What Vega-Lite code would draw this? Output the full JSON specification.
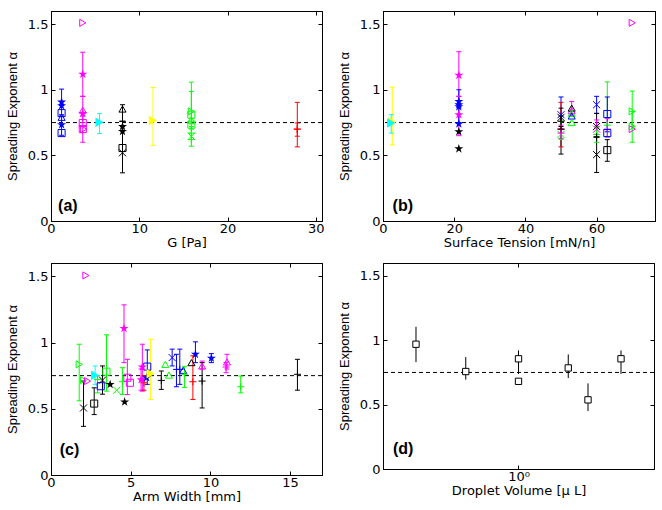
{
"$schema":"https://vega.github.io/schema/vega-lite/v6.json",
"background":"white",
"padding":{"left":5,"top":10,"right":5,"bottom":0},
"columns":2,
"spacing":{"row":12,"column":12},
"datasets":{
"a":[
{"x":1.2,"y":0.906,"lo":0.81,"hi":1.005,"s":"blue","m":"star"},
{"x":1.2,"y":0.878,"s":"blue","m":"star"},
{"x":1.2,"y":0.822,"s":"blue","m":"square"},
{"x":1.2,"y":0.79,"s":"blue","m":"tri"},
{"x":1.2,"y":0.734,"lo":0.653,"hi":0.8,"s":"blue","m":"star"},
{"x":1.2,"y":0.67,"s":"blue","m":"square"},
{"x":3.6,"y":1.51,"s":"magenta","m":"trr"},
{"x":3.6,"y":1.118,"lo":0.95,"hi":1.286,"s":"magenta","m":"star"},
{"x":3.6,"y":0.845,"lo":0.75,"hi":0.95,"s":"magenta","m":"tri"},
{"x":3.6,"y":0.82,"s":"magenta","m":"star"},
{"x":3.6,"y":0.746,"s":"magenta","m":"square"},
{"x":3.6,"y":0.7,"lo":0.6,"hi":0.8,"s":"magenta","m":"square"},
{"x":3.7,"y":0.7,"s":"magenta","m":"trr"},
{"x":5.5,"y":0.752,"lo":0.666,"hi":0.818,"s":"cyan","m":"trf"},
{"x":8.1,"y":0.853,"lo":0.76,"hi":0.886,"s":"black","m":"tri"},
{"x":8.1,"y":0.76,"s":"black","m":"plus"},
{"x":8.1,"y":0.72,"s":"black","m":"star"},
{"x":8.1,"y":0.683,"s":"black","m":"star"},
{"x":8.1,"y":0.556,"s":"black","m":"square"},
{"x":8.1,"y":0.52,"lo":0.367,"hi":0.72,"s":"black","m":"x"},
{"x":11.55,"y":0.765,"lo":0.577,"hi":1.017,"s":"yellow","m":"trf"},
{"x":15.9,"y":0.835,"lo":0.74,"hi":1.058,"s":"green","m":"trr"},
{"x":15.9,"y":0.81,"s":"green","m":"square"},
{"x":15.9,"y":0.77,"lo":0.7,"hi":0.987,"s":"green","m":"tri"},
{"x":15.9,"y":0.734,"s":"green","m":"square"},
{"x":15.9,"y":0.67,"s":"green","m":"plus"},
{"x":15.9,"y":0.645,"lo":0.57,"hi":0.72,"s":"green","m":"x"},
{"x":15.9,"y":0.62,"s":"green","m":"plus"},
{"x":27.9,"y":0.7,"lo":0.565,"hi":0.904,"s":"red","m":"plus"},
{"x":27.9,"y":0.7,"lo":0.646,"hi":0.747,"s":"red","m":"plus"}
],
"b":[
{"x":2.6,"y":0.754,"lo":0.58,"hi":1.02,"s":"yellow","m":"trf"},
{"x":2.3,"y":0.747,"lo":0.67,"hi":0.81,"s":"cyan","m":"trf"},
{"x":21.3,"y":1.11,"lo":0.95,"hi":1.29,"s":"magenta","m":"star"},
{"x":21.3,"y":0.81,"lo":0.65,"hi":0.95,"s":"magenta","m":"star"},
{"x":21.3,"y":0.91,"lo":0.75,"hi":1.0,"s":"blue","m":"star"},
{"x":21.3,"y":0.886,"s":"blue","m":"star"},
{"x":21.3,"y":0.87,"s":"blue","m":"star"},
{"x":21.3,"y":0.74,"s":"blue","m":"star"},
{"x":21.3,"y":0.68,"s":"black","m":"star"},
{"x":21.3,"y":0.55,"s":"black","m":"star"},
{"x":50,"y":0.81,"lo":0.7,"hi":0.945,"s":"blue","m":"x"},
{"x":50,"y":0.79,"lo":0.72,"hi":0.86,"s":"black","m":"x"},
{"x":50,"y":0.7,"lo":0.565,"hi":0.904,"s":"red","m":"plus"},
{"x":50,"y":0.7,"lo":0.51,"hi":0.8,"s":"black","m":"plus"},
{"x":50,"y":0.66,"lo":0.62,"hi":0.76,"s":"green","m":"x"},
{"x":50,"y":0.67,"lo":0.63,"hi":0.73,"s":"magenta","m":"plus"},
{"x":50,"y":0.76,"s":"black","m":"plus"},
{"x":53,"y":0.84,"lo":0.8,"hi":0.91,"s":"magenta","m":"tri"},
{"x":53,"y":0.86,"s":"black","m":"tri"},
{"x":53,"y":0.82,"s":"green","m":"tri"},
{"x":53,"y":0.8,"s":"blue","m":"tri"},
{"x":53,"y":0.75,"s":"green","m":"tri"},
{"x":60,"y":0.886,"lo":0.82,"hi":0.95,"s":"blue","m":"x"},
{"x":60,"y":0.72,"lo":0.64,"hi":0.82,"s":"black","m":"x"},
{"x":60,"y":0.7,"lo":0.66,"hi":0.77,"s":"magenta","m":"x"},
{"x":60,"y":0.66,"lo":0.6,"hi":0.72,"s":"green","m":"plus"},
{"x":60,"y":0.506,"lo":0.37,"hi":0.64,"s":"black","m":"x"},
{"x":60,"y":0.64,"s":"black","m":"plus"},
{"x":63,"y":0.73,"lo":0.64,"hi":1.06,"s":"green","m":"plus"},
{"x":63,"y":0.815,"lo":0.68,"hi":0.945,"s":"blue","m":"square"},
{"x":63,"y":0.7,"lo":0.64,"hi":0.78,"s":"magenta","m":"plus"},
{"x":63,"y":0.67,"s":"blue","m":"square"},
{"x":63,"y":0.54,"lo":0.455,"hi":0.62,"s":"black","m":"square"},
{"x":70,"y":1.51,"s":"magenta","m":"trr"},
{"x":70,"y":0.835,"lo":0.72,"hi":0.99,"s":"green","m":"trr"},
{"x":70,"y":0.7,"s":"magenta","m":"trr"},
{"x":70,"y":0.72,"lo":0.6,"hi":0.835,"s":"green","m":"trr"}
],
"c":[
{"x":2.19,"y":1.506,"s":"magenta","m":"trr"},
{"x":1.77,"y":0.835,"lo":0.56,"hi":0.987,"s":"green","m":"trr"},
{"x":2.04,"y":0.716,"s":"green","m":"trr"},
{"x":2.29,"y":0.709,"s":"magenta","m":"trr"},
{"x":2.04,"y":0.506,"lo":0.367,"hi":0.709,"s":"black","m":"x"},
{"x":2.77,"y":0.752,"lo":0.684,"hi":0.823,"s":"cyan","m":"trf"},
{"x":2.92,"y":0.72,"lo":0.62,"hi":0.75,"s":"green","m":"plus"},
{"x":2.71,"y":0.539,"lo":0.456,"hi":0.658,"s":"black","m":"square"},
{"x":3.12,"y":0.67,"s":"blue","m":"square"},
{"x":3.23,"y":0.716,"lo":0.61,"hi":0.823,"s":"black","m":"x"},
{"x":3.48,"y":0.78,"lo":0.633,"hi":1.058,"s":"green","m":"square"},
{"x":3.71,"y":0.684,"s":"black","m":"star"},
{"x":4.12,"y":0.64,"s":"green","m":"x"},
{"x":4.58,"y":1.106,"lo":0.848,"hi":1.284,"s":"magenta","m":"star"},
{"x":4.62,"y":0.552,"s":"black","m":"star"},
{"x":4.48,"y":0.704,"lo":0.608,"hi":0.81,"s":"green","m":"plus"},
{"x":4.79,"y":0.734,"lo":0.607,"hi":0.873,"s":"magenta","m":"square"},
{"x":4.95,"y":0.696,"s":"magenta","m":"square"},
{"x":5.73,"y":0.815,"lo":0.633,"hi":0.987,"s":"magenta","m":"star"},
{"x":5.65,"y":0.72,"lo":0.64,"hi":0.8,"s":"magenta","m":"star"},
{"x":5.83,"y":0.696,"lo":0.64,"hi":0.75,"s":"red","m":"plus"},
{"x":6.04,"y":0.818,"lo":0.684,"hi":0.944,"s":"blue","m":"square"},
{"x":6.0,"y":0.734,"s":"blue","m":"star"},
{"x":6.25,"y":0.765,"lo":0.57,"hi":1.025,"s":"yellow","m":"trf"},
{"x":6.92,"y":0.714,"lo":0.646,"hi":0.785,"s":"black","m":"plus"},
{"x":7.17,"y":0.835,"s":"green","m":"tri"},
{"x":7.4,"y":0.754,"s":"green","m":"tri"},
{"x":7.6,"y":0.886,"lo":0.823,"hi":0.95,"s":"blue","m":"x"},
{"x":7.87,"y":0.797,"lo":0.666,"hi":0.911,"s":"blue","m":"plus"},
{"x":8.08,"y":0.797,"lo":0.684,"hi":0.95,"s":"blue","m":"plus"},
{"x":8.29,"y":0.79,"s":"blue","m":"tri"},
{"x":8.37,"y":0.76,"lo":0.66,"hi":0.82,"s":"green","m":"plus"},
{"x":8.81,"y":0.848,"s":"black","m":"tri"},
{"x":8.9,"y":0.704,"lo":0.57,"hi":0.9,"s":"red","m":"plus"},
{"x":9.48,"y":0.709,"lo":0.506,"hi":0.848,"s":"black","m":"plus"},
{"x":9.48,"y":0.823,"lo":0.8,"hi":0.86,"s":"magenta","m":"tri"},
{"x":9.06,"y":0.911,"lo":0.848,"hi":1.005,"s":"blue","m":"star"},
{"x":10.06,"y":0.881,"lo":0.848,"hi":0.916,"s":"blue","m":"star"},
{"x":11.04,"y":0.853,"lo":0.8,"hi":0.911,"s":"magenta","m":"tri"},
{"x":10.98,"y":0.815,"lo":0.772,"hi":0.85,"s":"magenta","m":"plus"},
{"x":11.9,"y":0.666,"lo":0.62,"hi":0.747,"s":"green","m":"plus"},
{"x":15.46,"y":0.76,"lo":0.64,"hi":0.873,"s":"black","m":"plus"}
],
"d":[
{"x":0.5,"y":0.969,"lo":0.83,"hi":1.105,"s":"black","m":"square"},
{"x":0.7,"y":0.757,"lo":0.694,"hi":0.869,"s":"black","m":"square"},
{"x":1,"y":0.856,"lo":0.738,"hi":0.921,"s":"black","m":"square"},
{"x":1,"y":0.681,"s":"black","m":"square"},
{"x":1.4,"y":0.785,"lo":0.707,"hi":0.89,"s":"black","m":"square"},
{"x":1.6,"y":0.537,"lo":0.45,"hi":0.665,"s":"black","m":"square"},
{"x":2,"y":0.856,"lo":0.738,"hi":0.921,"s":"black","m":"square"}
]
},
"concat":[
{"width":271,"height":210,"resolve":{"axis":{"x":"independent","y":"independent"}},
"layer":[
{"data":{"name":"a"},"layer":[
{"data":{"values":[{"y":0.75}]},"mark":{"type":"rule","color":"black","strokeDash":[4,3],"strokeWidth":1},"encoding":{"y":{"field":"y","type":"quantitative","scale":{"domain":[0,1.6],"nice":false,"zero":false},"axis":{"values":[0,0.5,1,1.5],"format":"~g","title":"Spreading Exponent α"}}}},
{"mark":{"type":"rule","strokeWidth":1},"encoding":{"x":{"field":"x","type":"quantitative","scale":{"domain":[0,30.7],"nice":false,"zero":false},"axis":{"values":[0,10,20,30],"title":"G [Pa]"}},"y":{"field":"lo","type":"quantitative","scale":{"domain":[0,1.6],"nice":false,"zero":false},"axis":{"values":[0,0.5,1,1.5],"format":"~g","title":"Spreading Exponent α"}},"y2":{"field":"hi"},"color":{"field":"s","type":"nominal","scale":{"domain":["blue","magenta","cyan","black","yellow","green","red"],"range":["#0000ff","#ff00ff","#00ffff","#000000","#ffff00","#00ff00","#ff0000"]},"legend":null}}},
{"mark":{"type":"point","shape":"stroke","size":25,"strokeWidth":1,"opacity":1},"encoding":{"x":{"field":"x","type":"quantitative","scale":{"domain":[0,30.7],"nice":false,"zero":false},"axis":{"values":[0,10,20,30],"title":"G [Pa]"}},"y":{"field":"lo","type":"quantitative","scale":{"domain":[0,1.6],"nice":false,"zero":false},"axis":{"values":[0,0.5,1,1.5],"format":"~g","title":"Spreading Exponent α"}},"color":{"field":"s","type":"nominal","scale":{"domain":["blue","magenta","cyan","black","yellow","green","red"],"range":["#0000ff","#ff00ff","#00ffff","#000000","#ffff00","#00ff00","#ff0000"]},"legend":null}}},
{"mark":{"type":"point","shape":"stroke","size":25,"strokeWidth":1,"opacity":1},"encoding":{"x":{"field":"x","type":"quantitative","scale":{"domain":[0,30.7],"nice":false,"zero":false},"axis":{"values":[0,10,20,30],"title":"G [Pa]"}},"y":{"field":"hi","type":"quantitative","scale":{"domain":[0,1.6],"nice":false,"zero":false},"axis":{"values":[0,0.5,1,1.5],"format":"~g","title":"Spreading Exponent α"}},"color":{"field":"s","type":"nominal","scale":{"domain":["blue","magenta","cyan","black","yellow","green","red"],"range":["#0000ff","#ff00ff","#00ffff","#000000","#ffff00","#00ff00","#ff0000"]},"legend":null}}},
{"transform":[{"filter":"datum.m!=='star'&&datum.m!=='trf'"}],"mark":{"type":"point","filled":false,"size":50,"strokeWidth":1,"opacity":1},"encoding":{"x":{"field":"x","type":"quantitative","scale":{"domain":[0,30.7],"nice":false,"zero":false},"axis":{"values":[0,10,20,30],"title":"G [Pa]"}},"y":{"field":"y","type":"quantitative","scale":{"domain":[0,1.6],"nice":false,"zero":false},"axis":{"values":[0,0.5,1,1.5],"format":"~g","title":"Spreading Exponent α"}},"color":{"field":"s","type":"nominal","scale":{"domain":["blue","magenta","cyan","black","yellow","green","red"],"range":["#0000ff","#ff00ff","#00ffff","#000000","#ffff00","#00ff00","#ff0000"]},"legend":null},"shape":{"field":"m","type":"nominal","scale":{"domain":["star","x","plus","square","tri","trr","trf"],"range":["M0,-1L0.225,-0.309L0.951,-0.309L0.363,0.118L0.588,0.809L0,0.382L-0.588,0.809L-0.363,0.118L-0.951,-0.309L-0.225,-0.309Z","M-1,-1L1,1M-1,1L1,-1","M-1,0L1,0M0,-1L0,1","square","triangle-up","triangle-right","triangle-right"]},"legend":null}}},
{"transform":[{"filter":"datum.m==='star'||datum.m==='trf'"}],"mark":{"type":"point","filled":true,"size":90,"opacity":1},"encoding":{"x":{"field":"x","type":"quantitative","scale":{"domain":[0,30.7],"nice":false,"zero":false},"axis":{"values":[0,10,20,30],"title":"G [Pa]"}},"y":{"field":"y","type":"quantitative","scale":{"domain":[0,1.6],"nice":false,"zero":false},"axis":{"values":[0,0.5,1,1.5],"format":"~g","title":"Spreading Exponent α"}},"color":{"field":"s","type":"nominal","scale":{"domain":["blue","magenta","cyan","black","yellow","green","red"],"range":["#0000ff","#ff00ff","#00ffff","#000000","#ffff00","#00ff00","#ff0000"]},"legend":null},"shape":{"field":"m","type":"nominal","scale":{"domain":["star","x","plus","square","tri","trr","trf"],"range":["M0,-1L0.225,-0.309L0.951,-0.309L0.363,0.118L0.588,0.809L0,0.382L-0.588,0.809L-0.363,0.118L-0.951,-0.309L-0.225,-0.309Z","M-1,-1L1,1M-1,1L1,-1","M-1,0L1,0M0,-1L0,1","square","triangle-up","triangle-right","triangle-right"]},"legend":null}}}
]},
{"data":{"values":[{"x":0.8,"y":0.08,"t":"(a)"}]},"mark":{"type":"text","align":"left","baseline":"alphabetic","fontSize":16,"fontWeight":"bold","font":"Liberation Sans","color":"black"},"encoding":{"x":{"field":"x","type":"quantitative","scale":{"domain":[0,30.7],"nice":false,"zero":false},"axis":{"orient":"top","values":[0,10,20,30],"labels":false,"title":null}},"y":{"field":"y","type":"quantitative","scale":{"domain":[0,1.6],"nice":false,"zero":false},"axis":{"orient":"right","values":[0,0.5,1,1.5],"labels":false,"title":null}},"text":{"field":"t"}}}
]},
{"width":272,"height":210,"resolve":{"axis":{"x":"independent","y":"independent"}},
"layer":[
{"data":{"name":"b"},"layer":[
{"data":{"values":[{"y":0.75}]},"mark":{"type":"rule","color":"black","strokeDash":[4,3],"strokeWidth":1},"encoding":{"y":{"field":"y","type":"quantitative","scale":{"domain":[0,1.6],"nice":false,"zero":false},"axis":{"values":[0,0.5,1,1.5],"format":"~g","title":"Spreading Exponent α"}}}},
{"mark":{"type":"rule","strokeWidth":1},"encoding":{"x":{"field":"x","type":"quantitative","scale":{"domain":[0,76.4],"nice":false,"zero":false},"axis":{"values":[0,20,40,60],"title":"Surface Tension [mN/n]"}},"y":{"field":"lo","type":"quantitative","scale":{"domain":[0,1.6],"nice":false,"zero":false},"axis":{"values":[0,0.5,1,1.5],"format":"~g","title":"Spreading Exponent α"}},"y2":{"field":"hi"},"color":{"field":"s","type":"nominal","scale":{"domain":["blue","magenta","cyan","black","yellow","green","red"],"range":["#0000ff","#ff00ff","#00ffff","#000000","#ffff00","#00ff00","#ff0000"]},"legend":null}}},
{"mark":{"type":"point","shape":"stroke","size":25,"strokeWidth":1,"opacity":1},"encoding":{"x":{"field":"x","type":"quantitative","scale":{"domain":[0,76.4],"nice":false,"zero":false},"axis":{"values":[0,20,40,60],"title":"Surface Tension [mN/n]"}},"y":{"field":"lo","type":"quantitative","scale":{"domain":[0,1.6],"nice":false,"zero":false},"axis":{"values":[0,0.5,1,1.5],"format":"~g","title":"Spreading Exponent α"}},"color":{"field":"s","type":"nominal","scale":{"domain":["blue","magenta","cyan","black","yellow","green","red"],"range":["#0000ff","#ff00ff","#00ffff","#000000","#ffff00","#00ff00","#ff0000"]},"legend":null}}},
{"mark":{"type":"point","shape":"stroke","size":25,"strokeWidth":1,"opacity":1},"encoding":{"x":{"field":"x","type":"quantitative","scale":{"domain":[0,76.4],"nice":false,"zero":false},"axis":{"values":[0,20,40,60],"title":"Surface Tension [mN/n]"}},"y":{"field":"hi","type":"quantitative","scale":{"domain":[0,1.6],"nice":false,"zero":false},"axis":{"values":[0,0.5,1,1.5],"format":"~g","title":"Spreading Exponent α"}},"color":{"field":"s","type":"nominal","scale":{"domain":["blue","magenta","cyan","black","yellow","green","red"],"range":["#0000ff","#ff00ff","#00ffff","#000000","#ffff00","#00ff00","#ff0000"]},"legend":null}}},
{"transform":[{"filter":"datum.m!=='star'&&datum.m!=='trf'"}],"mark":{"type":"point","filled":false,"size":50,"strokeWidth":1,"opacity":1},"encoding":{"x":{"field":"x","type":"quantitative","scale":{"domain":[0,76.4],"nice":false,"zero":false},"axis":{"values":[0,20,40,60],"title":"Surface Tension [mN/n]"}},"y":{"field":"y","type":"quantitative","scale":{"domain":[0,1.6],"nice":false,"zero":false},"axis":{"values":[0,0.5,1,1.5],"format":"~g","title":"Spreading Exponent α"}},"color":{"field":"s","type":"nominal","scale":{"domain":["blue","magenta","cyan","black","yellow","green","red"],"range":["#0000ff","#ff00ff","#00ffff","#000000","#ffff00","#00ff00","#ff0000"]},"legend":null},"shape":{"field":"m","type":"nominal","scale":{"domain":["star","x","plus","square","tri","trr","trf"],"range":["M0,-1L0.225,-0.309L0.951,-0.309L0.363,0.118L0.588,0.809L0,0.382L-0.588,0.809L-0.363,0.118L-0.951,-0.309L-0.225,-0.309Z","M-1,-1L1,1M-1,1L1,-1","M-1,0L1,0M0,-1L0,1","square","triangle-up","triangle-right","triangle-right"]},"legend":null}}},
{"transform":[{"filter":"datum.m==='star'||datum.m==='trf'"}],"mark":{"type":"point","filled":true,"size":90,"opacity":1},"encoding":{"x":{"field":"x","type":"quantitative","scale":{"domain":[0,76.4],"nice":false,"zero":false},"axis":{"values":[0,20,40,60],"title":"Surface Tension [mN/n]"}},"y":{"field":"y","type":"quantitative","scale":{"domain":[0,1.6],"nice":false,"zero":false},"axis":{"values":[0,0.5,1,1.5],"format":"~g","title":"Spreading Exponent α"}},"color":{"field":"s","type":"nominal","scale":{"domain":["blue","magenta","cyan","black","yellow","green","red"],"range":["#0000ff","#ff00ff","#00ffff","#000000","#ffff00","#00ff00","#ff0000"]},"legend":null},"shape":{"field":"m","type":"nominal","scale":{"domain":["star","x","plus","square","tri","trr","trf"],"range":["M0,-1L0.225,-0.309L0.951,-0.309L0.363,0.118L0.588,0.809L0,0.382L-0.588,0.809L-0.363,0.118L-0.951,-0.309L-0.225,-0.309Z","M-1,-1L1,1M-1,1L1,-1","M-1,0L1,0M0,-1L0,1","square","triangle-up","triangle-right","triangle-right"]},"legend":null}}}
]},
{"data":{"values":[{"x":2.7,"y":0.08,"t":"(b)"}]},"mark":{"type":"text","align":"left","baseline":"alphabetic","fontSize":16,"fontWeight":"bold","font":"Liberation Sans","color":"black"},"encoding":{"x":{"field":"x","type":"quantitative","scale":{"domain":[0,76.4],"nice":false,"zero":false},"axis":{"orient":"top","values":[0,20,40,60],"labels":false,"title":null}},"y":{"field":"y","type":"quantitative","scale":{"domain":[0,1.6],"nice":false,"zero":false},"axis":{"orient":"right","values":[0,0.5,1,1.5],"labels":false,"title":null}},"text":{"field":"t"}}}
]},
{"width":271,"height":212,"resolve":{"axis":{"x":"independent","y":"independent"}},
"layer":[
{"data":{"name":"c"},"layer":[
{"data":{"values":[{"y":0.75}]},"mark":{"type":"rule","color":"black","strokeDash":[4,3],"strokeWidth":1},"encoding":{"y":{"field":"y","type":"quantitative","scale":{"domain":[0,1.6],"nice":false,"zero":false},"axis":{"values":[0,0.5,1,1.5],"format":"~g","title":"Spreading Exponent α"}}}},
{"mark":{"type":"rule","strokeWidth":1},"encoding":{"x":{"field":"x","type":"quantitative","scale":{"domain":[0,17],"nice":false,"zero":false},"axis":{"values":[0,5,10,15],"title":"Arm Width [mm]"}},"y":{"field":"lo","type":"quantitative","scale":{"domain":[0,1.6],"nice":false,"zero":false},"axis":{"values":[0,0.5,1,1.5],"format":"~g","title":"Spreading Exponent α"}},"y2":{"field":"hi"},"color":{"field":"s","type":"nominal","scale":{"domain":["blue","magenta","cyan","black","yellow","green","red"],"range":["#0000ff","#ff00ff","#00ffff","#000000","#ffff00","#00ff00","#ff0000"]},"legend":null}}},
{"mark":{"type":"point","shape":"stroke","size":25,"strokeWidth":1,"opacity":1},"encoding":{"x":{"field":"x","type":"quantitative","scale":{"domain":[0,17],"nice":false,"zero":false},"axis":{"values":[0,5,10,15],"title":"Arm Width [mm]"}},"y":{"field":"lo","type":"quantitative","scale":{"domain":[0,1.6],"nice":false,"zero":false},"axis":{"values":[0,0.5,1,1.5],"format":"~g","title":"Spreading Exponent α"}},"color":{"field":"s","type":"nominal","scale":{"domain":["blue","magenta","cyan","black","yellow","green","red"],"range":["#0000ff","#ff00ff","#00ffff","#000000","#ffff00","#00ff00","#ff0000"]},"legend":null}}},
{"mark":{"type":"point","shape":"stroke","size":25,"strokeWidth":1,"opacity":1},"encoding":{"x":{"field":"x","type":"quantitative","scale":{"domain":[0,17],"nice":false,"zero":false},"axis":{"values":[0,5,10,15],"title":"Arm Width [mm]"}},"y":{"field":"hi","type":"quantitative","scale":{"domain":[0,1.6],"nice":false,"zero":false},"axis":{"values":[0,0.5,1,1.5],"format":"~g","title":"Spreading Exponent α"}},"color":{"field":"s","type":"nominal","scale":{"domain":["blue","magenta","cyan","black","yellow","green","red"],"range":["#0000ff","#ff00ff","#00ffff","#000000","#ffff00","#00ff00","#ff0000"]},"legend":null}}},
{"transform":[{"filter":"datum.m!=='star'&&datum.m!=='trf'"}],"mark":{"type":"point","filled":false,"size":50,"strokeWidth":1,"opacity":1},"encoding":{"x":{"field":"x","type":"quantitative","scale":{"domain":[0,17],"nice":false,"zero":false},"axis":{"values":[0,5,10,15],"title":"Arm Width [mm]"}},"y":{"field":"y","type":"quantitative","scale":{"domain":[0,1.6],"nice":false,"zero":false},"axis":{"values":[0,0.5,1,1.5],"format":"~g","title":"Spreading Exponent α"}},"color":{"field":"s","type":"nominal","scale":{"domain":["blue","magenta","cyan","black","yellow","green","red"],"range":["#0000ff","#ff00ff","#00ffff","#000000","#ffff00","#00ff00","#ff0000"]},"legend":null},"shape":{"field":"m","type":"nominal","scale":{"domain":["star","x","plus","square","tri","trr","trf"],"range":["M0,-1L0.225,-0.309L0.951,-0.309L0.363,0.118L0.588,0.809L0,0.382L-0.588,0.809L-0.363,0.118L-0.951,-0.309L-0.225,-0.309Z","M-1,-1L1,1M-1,1L1,-1","M-1,0L1,0M0,-1L0,1","square","triangle-up","triangle-right","triangle-right"]},"legend":null}}},
{"transform":[{"filter":"datum.m==='star'||datum.m==='trf'"}],"mark":{"type":"point","filled":true,"size":90,"opacity":1},"encoding":{"x":{"field":"x","type":"quantitative","scale":{"domain":[0,17],"nice":false,"zero":false},"axis":{"values":[0,5,10,15],"title":"Arm Width [mm]"}},"y":{"field":"y","type":"quantitative","scale":{"domain":[0,1.6],"nice":false,"zero":false},"axis":{"values":[0,0.5,1,1.5],"format":"~g","title":"Spreading Exponent α"}},"color":{"field":"s","type":"nominal","scale":{"domain":["blue","magenta","cyan","black","yellow","green","red"],"range":["#0000ff","#ff00ff","#00ffff","#000000","#ffff00","#00ff00","#ff0000"]},"legend":null},"shape":{"field":"m","type":"nominal","scale":{"domain":["star","x","plus","square","tri","trr","trf"],"range":["M0,-1L0.225,-0.309L0.951,-0.309L0.363,0.118L0.588,0.809L0,0.382L-0.588,0.809L-0.363,0.118L-0.951,-0.309L-0.225,-0.309Z","M-1,-1L1,1M-1,1L1,-1","M-1,0L1,0M0,-1L0,1","square","triangle-up","triangle-right","triangle-right"]},"legend":null}}}
]},
{"data":{"values":[{"x":0.55,"y":0.15,"t":"(c)"}]},"mark":{"type":"text","align":"left","baseline":"alphabetic","fontSize":16,"fontWeight":"bold","font":"Liberation Sans","color":"black"},"encoding":{"x":{"field":"x","type":"quantitative","scale":{"domain":[0,17],"nice":false,"zero":false},"axis":{"orient":"top","values":[0,5,10,15],"labels":false,"title":null}},"y":{"field":"y","type":"quantitative","scale":{"domain":[0,1.6],"nice":false,"zero":false},"axis":{"orient":"right","values":[0,0.5,1,1.5],"labels":false,"title":null}},"text":{"field":"t"}}}
]},
{"width":271,"height":206,"resolve":{"axis":{"x":"independent","y":"independent"}},
"layer":[
{"data":{"name":"d"},"layer":[
{"data":{"values":[{"y":0.75}]},"mark":{"type":"rule","color":"black","strokeDash":[4,3],"strokeWidth":1},"encoding":{"y":{"field":"y","type":"quantitative","scale":{"domain":[0,1.6],"nice":false,"zero":false},"axis":{"values":[0,0.5,1,1.5],"format":"~g","title":"Spreading Exponent α"}}}},
{"mark":{"type":"rule","strokeWidth":1,"color":"black"},"encoding":{"x":{"field":"x","type":"quantitative","scale":{"type":"log","domain":[0.4,2.5],"nice":false},"axis":{"values":[1],"labelExpr":"'10⁰'","title":"Droplet Volume [μ L]"}},"y":{"field":"lo","type":"quantitative","scale":{"domain":[0,1.6],"nice":false,"zero":false},"axis":{"values":[0,0.5,1,1.5],"format":"~g","title":"Spreading Exponent α"}},"y2":{"field":"hi"}}},
{"mark":{"type":"point","shape":"square","filled":false,"fill":"white","size":40,"strokeWidth":1,"opacity":1,"color":"black"},"encoding":{"x":{"field":"x","type":"quantitative","scale":{"type":"log","domain":[0.4,2.5],"nice":false},"axis":{"values":[1],"labelExpr":"'10⁰'","title":"Droplet Volume [μ L]"}},"y":{"field":"y","type":"quantitative","scale":{"domain":[0,1.6],"nice":false,"zero":false},"axis":{"values":[0,0.5,1,1.5],"format":"~g","title":"Spreading Exponent α"}}}}
]},
{"data":{"values":[{"x":0.428,"y":0.115,"t":"(d)"}]},"mark":{"type":"text","align":"left","baseline":"alphabetic","fontSize":16,"fontWeight":"bold","font":"Liberation Sans","color":"black"},"encoding":{"x":{"field":"x","type":"quantitative","scale":{"type":"log","domain":[0.4,2.5],"nice":false},"axis":{"orient":"top","values":[1],"labels":false,"title":null}},"y":{"field":"y","type":"quantitative","scale":{"domain":[0,1.6],"nice":false,"zero":false},"axis":{"orient":"right","values":[0,0.5,1,1.5],"labels":false,"title":null}},"text":{"field":"t"}}}
]}
],
"config":{
"font":"DejaVu Sans",
"view":{"stroke":"black","strokeWidth":1},
"axis":{"grid":false,"domainColor":"black","tickColor":"black","labelColor":"black","titleColor":"black","labelFont":"DejaVu Sans","titleFont":"DejaVu Sans","labelFontSize":13,"titleFontSize":13,"titleFontWeight":"normal","tickSize":-4,"labelFlush":false,"labelOverlap":false},
"axisX":{"labelPadding":5,"titlePadding":1},
"axisY":{"labelPadding":7,"titlePadding":8,"titleFont":"Liberation Sans"}
}
}
